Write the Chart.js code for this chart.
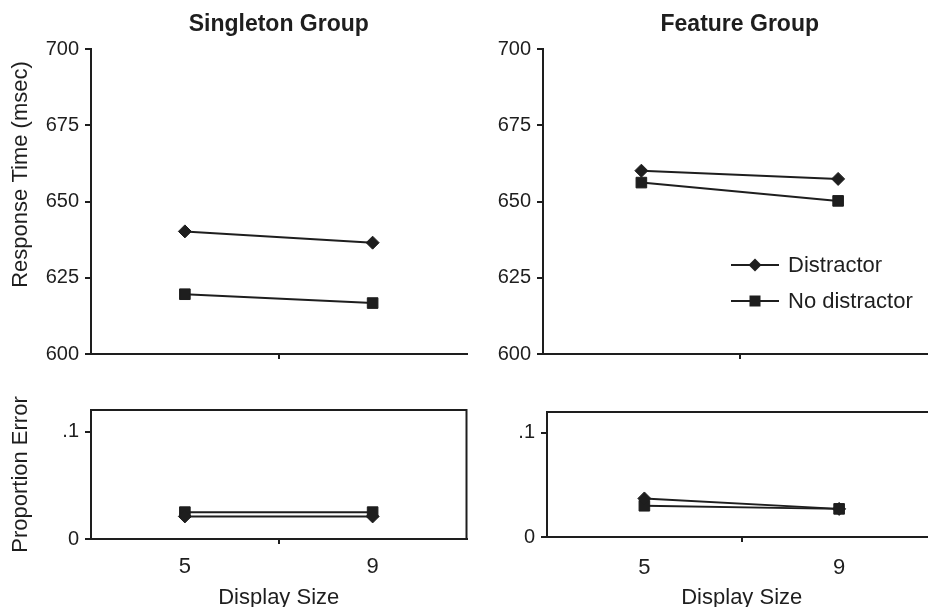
<!DOCTYPE html>
<html>
<head>
<meta charset="utf-8">
<script src="https://cdn.jsdelivr.net/npm/chart.js@4"></script>
<style>
html, body { margin: 0; padding: 0; background: #fff; width: 928px; height: 607px; overflow: hidden; }
canvas { position: absolute; }
#legend { position: absolute; left: 731px; top: 252px; font: 22px "Liberation Sans", Arial, sans-serif; color: #1e1e1e; }
#legend .row { display: flex; align-items: center; height: 26px; margin-bottom: 10px; white-space: nowrap; }
#legend svg { margin-right: 9px; }
</style>
</head>
<body>
<canvas id="rtSingleton" width="475" height="372" style="left:0;top:0"></canvas>
<canvas id="rtFeature" width="475" height="372" style="left:470px;top:0"></canvas>
<canvas id="errSingleton" width="475" height="232" style="left:0;top:380px"></canvas>
<canvas id="errFeature" width="475" height="232" style="left:470px;top:380px"></canvas>
<div id="legend">
  <div class="row"><svg width="48" height="14"><line x1="0" y1="7" x2="48" y2="7" stroke="#1e1e1e" stroke-width="2"/><polygon points="24,0.5 30.5,7 24,13.5 17.5,7" fill="#1e1e1e"/></svg><span>Distractor</span></div>
  <div class="row"><svg width="48" height="14"><line x1="0" y1="7" x2="48" y2="7" stroke="#1e1e1e" stroke-width="2"/><rect x="18.5" y="1.5" width="11" height="11" fill="#1e1e1e"/></svg><span>No distractor</span></div>
</div>
<script>
const displaySizes = ['5', '9'];
const seriesNames = ['Distractor', 'No distractor'];
const groupTitles = ['Singleton Group', 'Feature Group'];

const singletonRtDistractor = [640.2, 636.5];
const singletonRtNoDistractor = [619.6, 616.7];
const featureRtDistractor = [660.1, 657.4];
const featureRtNoDistractor = [656.2, 650.2];

const singletonErrDistractor = [0.021, 0.021];
const singletonErrNoDistractor = [0.025, 0.025];
const featureErrDistractor = [0.037, 0.027];
const featureErrNoDistractor = [0.030, 0.027];

const rtTicks = [600, 625, 650, 675, 700];
const errTicks = [0, 0.1];

const ink = '#1e1e1e';
Chart.defaults.font.family = '"Liberation Sans", Arial, sans-serif';
Chart.defaults.color = ink;

// full frame round the error panels
const boxBorder = {
    id: 'boxBorder',
    afterDraw(chart) {
        const a = chart.chartArea;
        const ctx = chart.ctx;
        ctx.save();
        ctx.strokeStyle = ink;
        ctx.lineWidth = 2;
        ctx.strokeRect(a.left, a.top, a.right - a.left, a.bottom - a.top);
        ctx.restore();
    }
};

function series(distractor, noDistractor) {
    return [
        { label: seriesNames[0], data: distractor, pointStyle: 'rectRot', pointRadius: 6.5 },
        { label: seriesNames[1], data: noDistractor, pointStyle: 'rect', pointRadius: 7.5 }
    ].map(d => Object.assign(d, {
        borderColor: ink, backgroundColor: ink, borderWidth: 2,
        pointBorderWidth: 1, pointHoverRadius: d.pointRadius, tension: 0, clip: false
    }));
}

function makeChart(id, o) {
    const xAxis = {
        type: 'category',
        offset: true,
        border: { color: ink, width: 2 },
        grid: {
            offset: true, drawOnChartArea: false, tickLength: 5, lineWidth: 2,
            color: c => (c.index === 1 ? ink : 'rgba(0,0,0,0)')
        },
        ticks: { display: o.bottom, padding: o.tickPad || 8, font: { size: 22 } },
        title: { display: o.bottom, text: 'Display Size', font: { size: 22 }, padding: { top: 0, bottom: 1 } },
        afterFit: s => { s.height = o.xHeight; }
    };
    const yAxis = {
        min: o.min, max: o.max,
        border: { color: ink, width: 2 },
        grid: { drawOnChartArea: false, tickLength: 6, color: ink, lineWidth: 2 },
        afterBuildTicks: s => { s.ticks = o.ticks.map(v => ({ value: v })); },
        ticks: {
            padding: 6, font: { size: 20 },
            callback: v => (v > 0 && v < 1 ? String(v).replace(/^0/, '') : String(v))
        },
        title: { display: !!o.yTitle, text: o.yTitle, align: o.yAlign || 'center', font: { size: 22 }, padding: { top: 8, bottom: 0 } },
        afterFit: s => { s.width = o.yWidth; }
    };
    return new Chart(document.getElementById(id), {
        type: 'line',
        data: { labels: displaySizes, datasets: o.datasets },
        options: {
            responsive: false,
            animation: false,
            devicePixelRatio: 1,
            layout: { padding: o.padding },
            plugins: {
                legend: { display: false },
                tooltip: { enabled: false },
                title: {
                    display: !!o.title, text: o.title, fullSize: false, color: ink,
                    font: { size: 23, weight: 'bold' }, padding: { top: 11, bottom: 10.4 }
                }
            },
            scales: { x: xAxis, y: yAxis }
        },
        plugins: o.bottom ? [boxBorder] : []
    });
}

makeChart('rtSingleton', {
    title: groupTitles[0], yTitle: 'Response Time (msec)  ', yAlign: 'end',
    min: 600, max: 700, ticks: rtTicks, yWidth: 91, xHeight: 8, bottom: false,
    padding: { left: 0, right: 2, top: 0, bottom: 8 },
    datasets: series(singletonRtDistractor, singletonRtNoDistractor)
});
makeChart('rtFeature', {
    title: groupTitles[1],
    min: 600, max: 700, ticks: rtTicks, yWidth: 73, xHeight: 8, bottom: false,
    padding: { left: 0, right: 3, top: 0, bottom: 8 },
    datasets: series(featureRtDistractor, featureRtNoDistractor)
});
makeChart('errSingleton', {
    yTitle: 'Proportion Error',
    min: 0, max: 0.12, ticks: errTicks, yWidth: 91, xHeight: 73, tickPad: 10, bottom: true,
    padding: { left: 0, right: 2, top: 30, bottom: 0 },
    datasets: series(singletonErrDistractor, singletonErrNoDistractor)
});
makeChart('errFeature', {
    min: 0, max: 0.12, ticks: errTicks, yWidth: 77, xHeight: 75, tickPad: 13, bottom: true,
    padding: { left: 0, right: 2, top: 32, bottom: 0 },
    datasets: series(featureErrDistractor, featureErrNoDistractor)
});
</script>
</body>
</html>
